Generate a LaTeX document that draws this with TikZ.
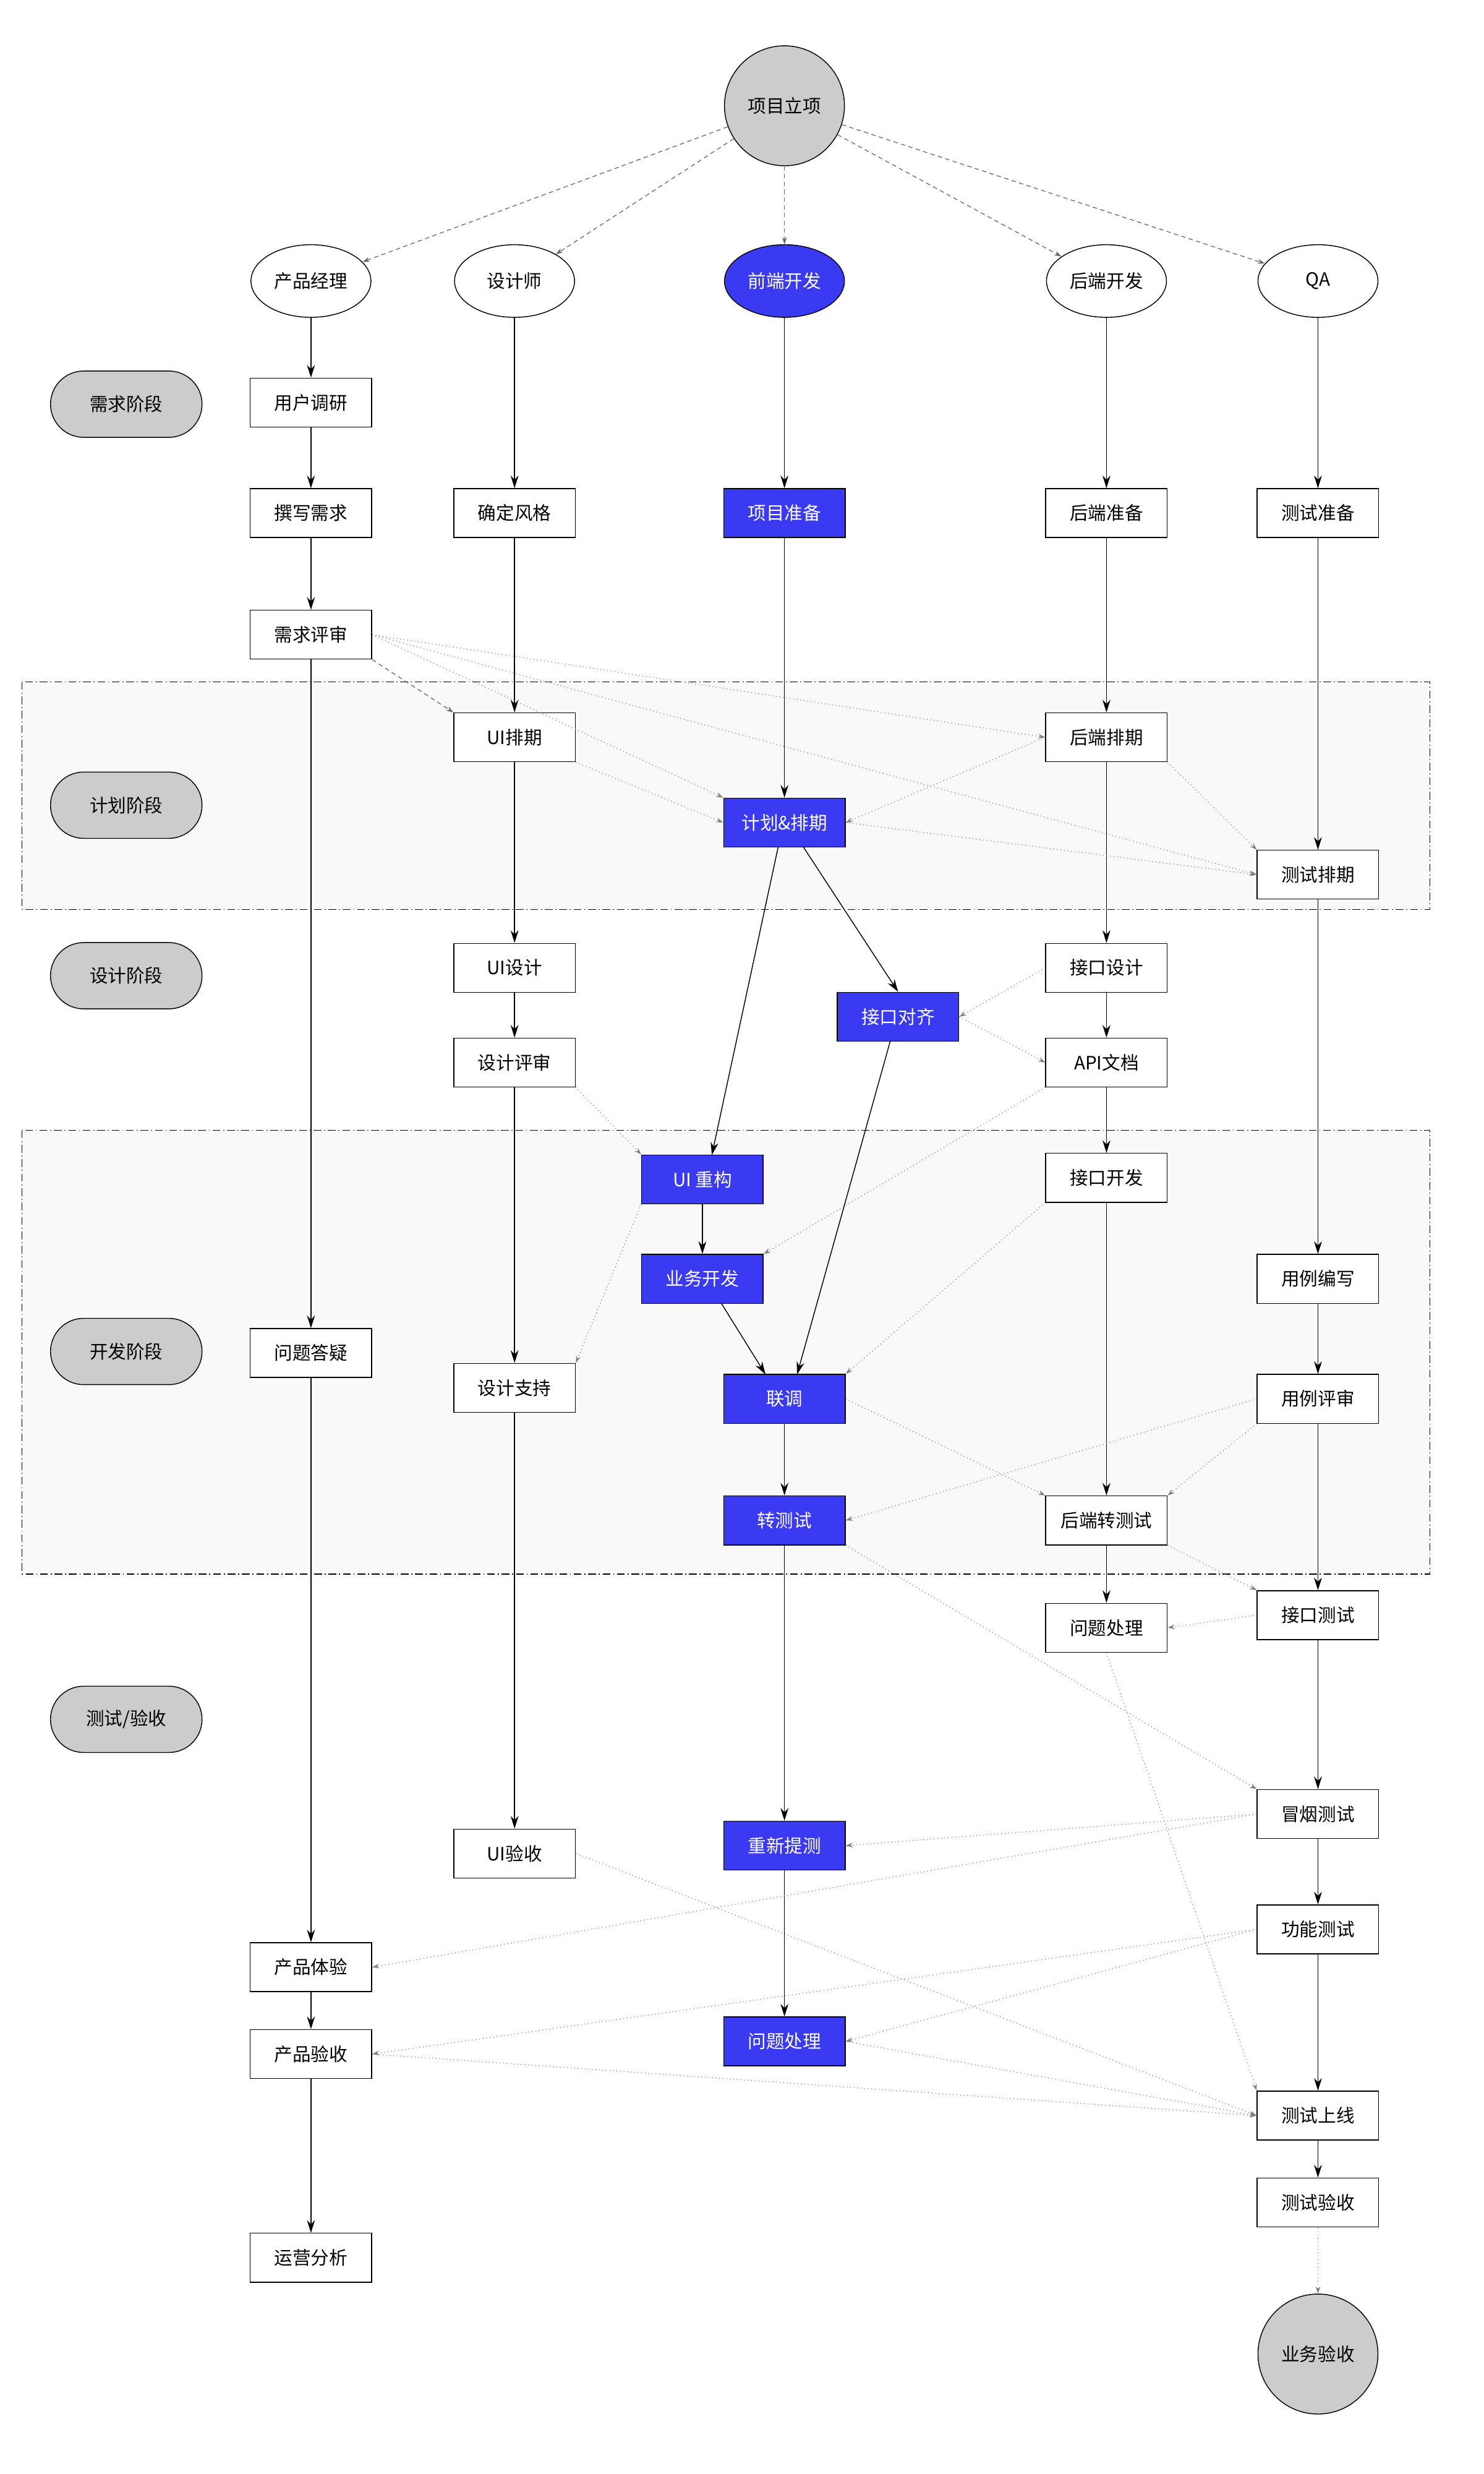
\documentclass[tikz,border=0pt]{standalone}
\usepackage{fontspec}
\setmainfont{Noto Sans CJK SC}
\usetikzlibrary{arrows.meta,shapes.geometric}
\definecolor{fe}{HTML}{3A3AF2}
\definecolor{pill}{HTML}{CCCCCC}
\definecolor{frame}{HTML}{F9F9F9}
\begin{document}
\begin{tikzpicture}[x=0.1cm,y=-0.1cm,
  every node/.style={font=\fontsize{33}{40}\selectfont},
  box/.style={draw,line width=1.6pt,fill=white,minimum width=7.7cm,minimum height=3.1cm,inner sep=0pt},
  fbox/.style={box,fill=fe,text=white},
  ell/.style={draw,line width=1.6pt,ellipse,fill=white,minimum width=7.6cm,minimum height=4.6cm,inner sep=0pt},
  circ/.style={draw,line width=1.6pt,circle,fill=pill,minimum size=7.6cm,inner sep=0pt},
  stage/.style={draw,line width=1.6pt,rounded corners=2.1cm,fill=pill,minimum width=9.6cm,minimum height=4.2cm,inner sep=0pt},
  sol/.style={line width=1.6pt,-{Stealth[length=0.8cm,width=0.5cm]}},
  dot/.style={gray,line width=1.4pt,dash pattern=on 1.4pt off 5pt,-{Stealth[length=0.45cm,width=0.3cm]}},
  dsh/.style={gray!80!black,line width=1.4pt,dash pattern=on 8pt off 6pt,-{Stealth[length=0.45cm,width=0.3cm]}},
  frm/.style={draw,line width=1.6pt,fill=frame,dash pattern=on 14pt off 5pt on 2pt off 5pt}]
\useasboundingbox (0,0) rectangle (940,1567);
\fill[white] (0,0) rectangle (940,1567);
\path[frm] (14,432) rectangle (906,576);
\path[frm] (14,716) rectangle (906,997);
% stages
\node[stage] (s1) at (80,256) {需求阶段};
\node[stage] (s2) at (80,510) {计划阶段};
\node[stage] (s3) at (80,618) {设计阶段};
\node[stage] (s4) at (80,856) {开发阶段};
\node[stage] (s5) at (80,1089) {测试/验收};
% top
\node[circ] (start) at (497,67) {项目立项};
\node[ell] (pm) at (197,178) {产品经理};
\node[ell] (ds) at (326,178) {设计师};
\node[ell,fill=fe,text=white] (fe) at (497,178) {前端开发};
\node[ell] (be) at (701,178) {后端开发};
\node[ell] (qa) at (835,178) {QA};
% PM
\node[box] (p1) at (197,255) {用户调研};
\node[box] (p2) at (197,325) {撰写需求};
\node[box] (p3) at (197,402) {需求评审};
\node[box] (p4) at (197,857) {问题答疑};
\node[box] (p5) at (197,1246) {产品体验};
\node[box] (p6) at (197,1301) {产品验收};
\node[box] (p7) at (197,1430) {运营分析};
% designer
\node[box] (d1) at (326,325) {确定风格};
\node[box] (d2) at (326,467) {UI排期};
\node[box] (d3) at (326,613) {UI设计};
\node[box] (d4) at (326,673) {设计评审};
\node[box] (d5) at (326,879) {设计支持};
\node[box] (d6) at (326,1174) {UI验收};
% FE
\node[fbox] (f1) at (497,325) {项目准备};
\node[fbox] (f2) at (497,521) {计划\&排期};
\node[fbox] (f3) at (569,644) {接口对齐};
\node[fbox] (f4) at (445,747) {UI 重构};
\node[fbox] (f5) at (445,810) {业务开发};
\node[fbox] (f6) at (497,886) {联调};
\node[fbox] (f7) at (497,963) {转测试};
\node[fbox] (f8) at (497,1169) {重新提测};
\node[fbox] (f9) at (497,1293) {问题处理};
% BE
\node[box] (b1) at (701,325) {后端准备};
\node[box] (b2) at (701,467) {后端排期};
\node[box] (b3) at (701,613) {接口设计};
\node[box] (b4) at (701,673) {API文档};
\node[box] (b5) at (701,746) {接口开发};
\node[box] (b6) at (701,963) {后端转测试};
\node[box] (b7) at (701,1031) {问题处理};
% QA
\node[box] (q1) at (835,325) {测试准备};
\node[box] (q2) at (835,554) {测试排期};
\node[box] (q3) at (835,810) {用例编写};
\node[box] (q4) at (835,886) {用例评审};
\node[box] (q5) at (835,1023) {接口测试};
\node[box] (q6) at (835,1149) {冒烟测试};
\node[box] (q7) at (835,1222) {功能测试};
\node[box] (q8) at (835,1340) {测试上线};
\node[box] (q9) at (835,1395) {测试验收};
\node[circ] (end) at (835,1491) {业务验收};
% helper coordinates
\coordinate (f2a) at (509,536.5);
\coordinate (f2b) at (493,536.5);
\coordinate (f4a) at (451,731.5);
\coordinate (f5a) at (457,825.5);
\coordinate (f6a) at (485,870.5);
\coordinate (f3a) at (564,659.5);
\coordinate (f6b) at (505,870.5);
% dashed from start
\foreach \t in {pm,ds,fe,be,qa} \draw[dsh] (start) -- (\t);
% solid chains
\draw[sol] (pm)--(p1); \draw[sol] (p1)--(p2); \draw[sol] (p2)--(p3); \draw[sol] (p3)--(p4);
\draw[sol] (p4)--(p5); \draw[sol] (p5)--(p6); \draw[sol] (p6)--(p7);
\draw[sol] (ds)--(d1); \draw[sol] (d1)--(d2); \draw[sol] (d2)--(d3); \draw[sol] (d3)--(d4);
\draw[sol] (d4)--(d5); \draw[sol] (d5)--(d6);
\draw[sol] (fe)--(f1); \draw[sol] (f1)--(f2);
\draw[sol] (f2a)--(f3.north);
\draw[sol] (f2b)--(f4a);
\draw[sol] (f4)--(f5);
\draw[sol] (f5a)--(f6a);
\draw[sol] (f3a)--(f6b);
\draw[sol] (f6)--(f7); \draw[sol] (f7)--(f8); \draw[sol] (f8)--(f9);
\draw[sol] (be)--(b1); \draw[sol] (b1)--(b2); \draw[sol] (b2)--(b3); \draw[sol] (b3)--(b4);
\draw[sol] (b4)--(b5); \draw[sol] (b5)--(b6); \draw[sol] (b6)--(b7);
\draw[sol] (qa)--(q1); \draw[sol] (q1)--(q2); \draw[sol] (q2)--(q3); \draw[sol] (q3)--(q4);
\draw[sol] (q4)--(q5); \draw[sol] (q5)--(q6); \draw[sol] (q6)--(q7); \draw[sol] (q7)--(q8);
\draw[sol] (q8)--(q9);
\draw[dot] (q9)--(end);
% dotted / dashed cross links
\draw[dsh] (p3.south east)--(d2.north west);
\draw[dot] (p3.east)--(b2.west);
\draw[dot] (p3.east)--(f2.north west);
\draw[dot] (p3.east)--(q2.west);
\draw[dot] (d2.south east)--(f2.west);
\draw[dot] (b2.west)--(f2.east);
\draw[dot] (b2.south east)--(q2.north west);
\draw[dot] (f2.east)--(q2.west);
\draw[dot] (b3.west)--(f3.east);
\draw[dot] (f3.east)--(b4.west);
\draw[dot] (d4.south east)--(f4.north west);
\draw[dot] (f4.south west)--(d5.north east);
\draw[dot] (b4.south west)--(f5.north east);
\draw[dot] (b5.south west)--(f6.north east);
\draw[dot] (f6.east)--(b6.north west);
\draw[dot] (q4.west)--(f7.east);
\draw[dot] (q4.south west)--(b6.north east);
\draw[dot] (b6.south east)--(q5.north west);
\draw[dot] (q5.west)--(b7.east);
\draw[dot] (f7.south east)--(q6.north west);
\draw[dot] (q6.west)--(f8.east);
\draw[dot] (q6.west)--(p5.east);
\draw[dot] (q7.west)--(p6.east);
\draw[dot] (q7.west)--(f9.east);
\draw[dot] (d6.east)--(q8.west);
\draw[dot] (b7.south)--(q8.north west);
\draw[dot] (f9.east)--(q8.west);
\draw[dot] (p6.east)--(q8.west);
\end{tikzpicture}
\end{document}
